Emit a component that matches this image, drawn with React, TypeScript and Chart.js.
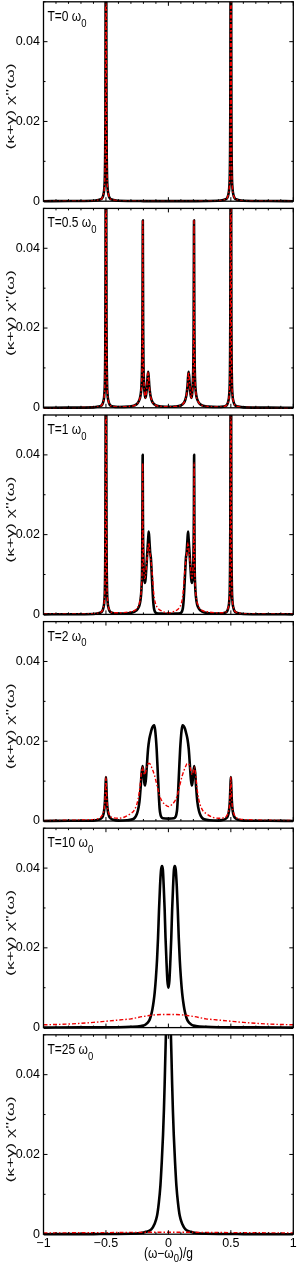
import React, { useEffect, useRef } from "react";
import { Chart, registerables } from "chart.js";

Chart.register(...registerables);

const W = 300;
const H = 1268;
const FONT = '"Liberation Sans", Arial, Helvetica, sans-serif';

// ---- text / ticks ----
const temperatures = ["0", "0.5", "1", "2", "10", "25"];
const xTickValues = [-1, -0.5, 0, 0.5, 1];
const xTickLabels = ["\u22121", "\u22120.5", "0", "0.5", "1"];
const yTickValues = [0, 0.02, 0.04];
const yTickLabels = ["0", "0.02", "0.04"];
const xMinorTicks = [-0.9, -0.8, -0.7, -0.6, -0.4, -0.3, -0.2, -0.1, 0.1, 0.2, 0.3, 0.4, 0.6, 0.7, 0.8, 0.9];
const yMinorTicks = [0.01, 0.03, 0.05];
const yTitle = "(\u03BA+\u03B3) \u03C7''(\u03C9)";

type Pt = [number, number];

// ---- T = 0 ----
const t0Black: Pt[] = [[-1,0],[-0.8,0.00005],[-0.6,0.0001],[-0.56,0.0003],[-0.54,0.0005],[-0.53,0.0008],[-0.52,0.0017],[-0.513,0.0033],[-0.508,0.0075],[-0.505,0.018],[-0.503,0.045],[-0.5,0.2],[-0.497,0.045],[-0.495,0.018],[-0.492,0.0075],[-0.487,0.0033],[-0.48,0.0017],[-0.47,0.0008],[-0.46,0.0005],[-0.44,0.0003],[-0.4,0.0001],[-0.2,0.00003],[0,0.00002],[0.2,0.00003],[0.4,0.0001],[0.44,0.0003],[0.46,0.0005],[0.47,0.0008],[0.48,0.0017],[0.487,0.0033],[0.492,0.0075],[0.495,0.018],[0.497,0.045],[0.5,0.2],[0.503,0.045],[0.505,0.018],[0.508,0.0075],[0.513,0.0033],[0.52,0.0017],[0.53,0.0008],[0.54,0.0005],[0.56,0.0003],[0.6,0.0001],[0.8,0.00005],[1,0]];
const t0Red: Pt[] = [...t0Black];

// ---- T = 0.5 ----
const t05Black: Pt[] = [[-1,0],[-0.8,0.00005],[-0.6,0.0001],[-0.56,0.0003],[-0.54,0.0005],[-0.53,0.0008],[-0.52,0.0017],[-0.513,0.0033],[-0.508,0.0075],[-0.505,0.018],[-0.503,0.045],[-0.5,0.2],[-0.497,0.045],[-0.495,0.018],[-0.492,0.0075],[-0.487,0.0033],[-0.48,0.0017],[-0.47,0.0008],[-0.46,0.0005],[-0.44,0.0003],[-0.4,0.0002],
[-0.32,0.0003],[-0.27,0.0006],[-0.245,0.0012],[-0.23,0.0022],[-0.22,0.0038],[-0.214,0.0065],[-0.21,0.012],[-0.208,0.02],[-0.206,0.038],[-0.205,0.047],[-0.204,0.038],[-0.202,0.02],[-0.2,0.012],[-0.196,0.0065],[-0.19,0.0035],[-0.184,0.0025],[-0.178,0.0033],[-0.172,0.0052],[-0.167,0.0076],[-0.162,0.009],[-0.158,0.0078],[-0.153,0.0055],[-0.145,0.0033],[-0.135,0.002],[-0.123,0.0012],[-0.1,0.0006],[-0.05,0.0003],[0,0.00025],
[0.05,0.0003],[0.1,0.0006],[0.123,0.0012],[0.135,0.002],[0.145,0.0033],[0.153,0.0055],[0.158,0.0078],[0.162,0.009],[0.167,0.0076],[0.172,0.0052],[0.178,0.0033],[0.184,0.0025],[0.19,0.0035],[0.196,0.0065],[0.2,0.012],[0.202,0.02],[0.204,0.038],[0.205,0.047],[0.206,0.038],[0.208,0.02],[0.21,0.012],[0.214,0.0065],[0.22,0.0038],[0.23,0.0022],[0.245,0.0012],[0.27,0.0006],[0.32,0.0003],
[0.4,0.0002],[0.44,0.0003],[0.46,0.0005],[0.47,0.0008],[0.48,0.0017],[0.487,0.0033],[0.492,0.0075],[0.495,0.018],[0.497,0.045],[0.5,0.2],[0.503,0.045],[0.505,0.018],[0.508,0.0075],[0.513,0.0033],[0.52,0.0017],[0.53,0.0008],[0.54,0.0005],[0.56,0.0003],[0.6,0.0001],[0.8,0.00005],[1,0]];
const t05Red: Pt[] = [...t05Black];

// ---- T = 1 ----
const t1Black: Pt[] = [[-1,0],[-0.8,0.00005],[-0.6,0.0001],[-0.56,0.0003],[-0.54,0.0005],[-0.53,0.0008],[-0.52,0.0017],[-0.513,0.0033],[-0.508,0.0075],[-0.505,0.018],[-0.503,0.045],[-0.5,0.2],[-0.497,0.045],[-0.495,0.018],[-0.492,0.0075],[-0.487,0.0033],[-0.48,0.0017],[-0.47,0.0008],[-0.46,0.0005],[-0.44,0.0003],[-0.4,0.0002],
[-0.32,0.0003],[-0.27,0.0007],[-0.245,0.0014],[-0.23,0.0025],[-0.22,0.0045],[-0.214,0.0075],[-0.21,0.013],[-0.208,0.025],[-0.206,0.04],[-0.204,0.025],[-0.2,0.014],[-0.195,0.0095],[-0.189,0.0079],[-0.183,0.0088],[-0.175,0.0125],[-0.166,0.017],[-0.16,0.0198],[-0.157,0.0208],[-0.152,0.0185],[-0.146,0.0155],[-0.14,0.014],[-0.134,0.0105],[-0.128,0.0068],[-0.122,0.0035],[-0.116,0.0016],[-0.108,0.0007],[-0.095,0.0003],[-0.05,0.0002],[0,0.00015],
[0.05,0.0002],[0.095,0.0003],[0.108,0.0007],[0.116,0.0016],[0.122,0.0035],[0.128,0.0068],[0.134,0.0105],[0.14,0.014],[0.146,0.0155],[0.152,0.0185],[0.157,0.0208],[0.16,0.0198],[0.166,0.017],[0.175,0.0125],[0.183,0.0088],[0.189,0.0079],[0.195,0.0095],[0.2,0.014],[0.204,0.025],[0.206,0.04],[0.208,0.025],[0.21,0.013],[0.214,0.0075],[0.22,0.0045],[0.23,0.0025],[0.245,0.0014],[0.27,0.0007],[0.32,0.0003],
[0.4,0.0002],[0.44,0.0003],[0.46,0.0005],[0.47,0.0008],[0.48,0.0017],[0.487,0.0033],[0.492,0.0075],[0.495,0.018],[0.497,0.045],[0.5,0.2],[0.503,0.045],[0.505,0.018],[0.508,0.0075],[0.513,0.0033],[0.52,0.0017],[0.53,0.0008],[0.54,0.0005],[0.56,0.0003],[0.6,0.0001],[0.8,0.00005],[1,0]];
const t1Red: Pt[] = [[-1,0.0001],[-0.8,0.0001],[-0.6,0.0002],[-0.56,0.0004],[-0.54,0.0006],[-0.53,0.0009],[-0.52,0.0018],[-0.513,0.0034],[-0.508,0.0075],[-0.505,0.018],[-0.503,0.045],[-0.5,0.2],[-0.497,0.045],[-0.495,0.018],[-0.492,0.0075],[-0.487,0.0034],[-0.48,0.0018],[-0.47,0.0009],[-0.46,0.0006],[-0.44,0.0004],[-0.4,0.0004],
[-0.32,0.0006],[-0.27,0.001],[-0.245,0.0018],[-0.23,0.003],[-0.22,0.005],[-0.214,0.008],[-0.21,0.013],[-0.208,0.024],[-0.206,0.038],[-0.204,0.025],[-0.2,0.015],[-0.195,0.0105],[-0.189,0.009],[-0.183,0.0098],[-0.175,0.0125],[-0.166,0.0155],[-0.16,0.0175],[-0.157,0.018],[-0.152,0.0168],[-0.146,0.015],[-0.14,0.0135],[-0.133,0.0115],[-0.126,0.0088],[-0.12,0.0062],[-0.112,0.004],[-0.102,0.0026],[-0.09,0.0018],[-0.077,0.0013],[-0.05,0.0008],[-0.025,0.0005],[0,0.0004],
[0.025,0.0005],[0.05,0.0008],[0.077,0.0013],[0.09,0.0018],[0.102,0.0026],[0.112,0.004],[0.12,0.0062],[0.126,0.0088],[0.133,0.0115],[0.14,0.0135],[0.146,0.015],[0.152,0.0168],[0.157,0.018],[0.16,0.0175],[0.166,0.0155],[0.175,0.0125],[0.183,0.0098],[0.189,0.009],[0.195,0.0105],[0.2,0.015],[0.204,0.025],[0.206,0.038],[0.208,0.024],[0.21,0.013],[0.214,0.008],[0.22,0.005],[0.23,0.003],[0.245,0.0018],[0.27,0.001],[0.32,0.0006],
[0.4,0.0004],[0.44,0.0004],[0.46,0.0006],[0.47,0.0009],[0.48,0.0018],[0.487,0.0034],[0.492,0.0075],[0.495,0.018],[0.497,0.045],[0.5,0.2],[0.503,0.045],[0.505,0.018],[0.508,0.0075],[0.513,0.0034],[0.52,0.0018],[0.53,0.0009],[0.54,0.0006],[0.56,0.0004],[0.6,0.0002],[0.8,0.0001],[1,0.0001]];

// ---- T = 2 ----
const t2Black: Pt[] = [[-1,0],[-0.8,0.00005],[-0.6,0.0001],[-0.56,0.0003],[-0.54,0.0006],[-0.525,0.0012],[-0.515,0.0025],[-0.508,0.005],[-0.503,0.009],[-0.5,0.011],[-0.497,0.009],[-0.492,0.005],[-0.485,0.0025],[-0.475,0.0012],[-0.46,0.0006],[-0.44,0.0003],[-0.4,0.0001],[-0.33,0.0002],[-0.28,0.0005],[-0.26,0.0012],[-0.245,0.0025],[-0.232,0.0048],[-0.222,0.0085],[-0.214,0.0122],[-0.207,0.0138],[-0.2,0.0122],[-0.193,0.0097],[-0.187,0.0089],[-0.18,0.0105],[-0.172,0.014],[-0.163,0.018],[-0.153,0.0205],[-0.144,0.0218],[-0.132,0.0232],[-0.122,0.0238],[-0.113,0.024],[-0.106,0.0228],[-0.1,0.0208],[-0.094,0.018],[-0.087,0.0135],[-0.08,0.0088],[-0.075,0.0055],[-0.07,0.003],[-0.064,0.0017],[-0.058,0.0011],[-0.045,0.0007],[0,0.0006],
[0.045,0.0007],[0.058,0.0011],[0.064,0.0017],[0.07,0.003],[0.075,0.0055],[0.08,0.0088],[0.087,0.0135],[0.094,0.018],[0.1,0.0208],[0.106,0.0228],[0.113,0.024],[0.122,0.0238],[0.132,0.0232],[0.144,0.0218],[0.153,0.0205],[0.163,0.018],[0.172,0.014],[0.18,0.0105],[0.187,0.0089],[0.193,0.0097],[0.2,0.0122],[0.207,0.0138],[0.214,0.0122],[0.222,0.0085],[0.232,0.0048],[0.245,0.0025],[0.26,0.0012],[0.28,0.0005],[0.33,0.0002],[0.4,0.0001],[0.44,0.0003],[0.46,0.0006],[0.475,0.0012],[0.485,0.0025],[0.492,0.005],[0.497,0.009],[0.5,0.011],[0.503,0.009],[0.508,0.005],[0.515,0.0025],[0.525,0.0012],[0.54,0.0006],[0.56,0.0003],[0.6,0.0001],[0.8,0.00005],[1,0]];
const t2Red: Pt[] = [[-1,0.0001],[-0.8,0.0002],[-0.65,0.0003],[-0.56,0.0006],[-0.535,0.0012],[-0.518,0.0025],[-0.508,0.005],[-0.503,0.009],[-0.5,0.011],[-0.497,0.009],[-0.492,0.005],[-0.482,0.0025],[-0.465,0.0012],[-0.44,0.0008],[-0.4,0.0007],[-0.35,0.001],[-0.31,0.0017],[-0.27,0.0029],[-0.243,0.0054],[-0.228,0.0085],[-0.216,0.0122],[-0.207,0.0135],[-0.199,0.0124],[-0.191,0.0116],[-0.182,0.0124],[-0.172,0.0137],[-0.16,0.0144],[-0.15,0.0144],[-0.138,0.0137],[-0.125,0.0127],[-0.11,0.0113],[-0.09,0.0088],[-0.07,0.0063],[-0.05,0.0049],[-0.03,0.0042],[0,0.0036],
[0.03,0.0042],[0.05,0.0049],[0.07,0.0063],[0.09,0.0088],[0.11,0.0113],[0.125,0.0127],[0.138,0.0137],[0.15,0.0144],[0.16,0.0144],[0.172,0.0137],[0.182,0.0124],[0.191,0.0116],[0.199,0.0124],[0.207,0.0135],[0.216,0.0122],[0.228,0.0085],[0.243,0.0054],[0.27,0.0029],[0.31,0.0017],[0.35,0.001],[0.4,0.0007],[0.44,0.0008],[0.465,0.0012],[0.482,0.0025],[0.492,0.005],[0.497,0.009],[0.5,0.011],[0.503,0.009],[0.508,0.005],[0.518,0.0025],[0.535,0.0012],[0.56,0.0006],[0.65,0.0003],[0.8,0.0002],[1,0.0001]];

// ---- T = 10 ----
const t10Black: Pt[] = [[-1,0],[-0.7,0.00005],[-0.4,0.0001],[-0.3,0.0002],[-0.22,0.0004],[-0.19,0.0006],[-0.17,0.0011],[-0.15,0.002],[-0.138,0.0032],[-0.128,0.0046],[-0.118,0.0066],[-0.11,0.0087],[-0.1,0.0125],[-0.091,0.017],[-0.083,0.0225],[-0.075,0.0296],[-0.067,0.0355],[-0.059,0.0395],[-0.051,0.0405],[-0.044,0.0395],[-0.037,0.035],[-0.03,0.0296],[-0.023,0.0225],[-0.016,0.017],[-0.008,0.0118],[0,0.01],
[0.008,0.0118],[0.016,0.017],[0.023,0.0225],[0.03,0.0296],[0.037,0.035],[0.044,0.0395],[0.051,0.0405],[0.059,0.0395],[0.067,0.0355],[0.075,0.0296],[0.083,0.0225],[0.091,0.017],[0.1,0.0125],[0.11,0.0087],[0.118,0.0066],[0.128,0.0046],[0.138,0.0032],[0.15,0.002],[0.17,0.0011],[0.19,0.0006],[0.22,0.0004],[0.3,0.0002],[0.4,0.0001],[0.7,0.00005],[1,0]];
const t10Red: Pt[] = [[-1,0.0007],[-0.8,0.0009],[-0.6,0.0013],[-0.5,0.0016],[-0.4,0.0019],[-0.3,0.0022],[-0.2,0.0028],[-0.1,0.0032],[0,0.0033],[0.1,0.0032],[0.2,0.0028],[0.3,0.0022],[0.4,0.0019],[0.5,0.0016],[0.6,0.0013],[0.8,0.0009],[1,0.0007]];

// ---- T = 25 ----
const t25Black: Pt[] = [[-1,0],[-0.6,0.00003],[-0.3,0.0001],[-0.22,0.0003],[-0.18,0.0006],[-0.137,0.0012],[-0.112,0.0025],[-0.091,0.0046],[-0.077,0.0078],[-0.064,0.0122],[-0.053,0.0182],[-0.043,0.0249],[-0.036,0.031],[-0.03,0.0376],[-0.025,0.044],[-0.02,0.05],[-0.012,0.059],[0,0.064],[0.012,0.059],[0.02,0.05],[0.025,0.044],[0.03,0.0376],[0.036,0.031],[0.043,0.0249],[0.053,0.0182],[0.064,0.0122],[0.077,0.0078],[0.091,0.0046],[0.112,0.0025],[0.137,0.0012],[0.18,0.0006],[0.22,0.0003],[0.3,0.0001],[0.6,0.00003],[1,0]];
const t25Red: Pt[] = [[-1,0.0003],[-0.5,0.0004],[0,0.0005],[0.5,0.0004],[1,0.0003]];

const blackSeries = [t0Black, t05Black, t1Black, t2Black, t10Black, t25Black];
const redSeries = [t0Red, t05Red, t1Red, t2Red, t10Red, t25Red];

// ---- layout ----
const panelTops = [1.8, 208.4, 415, 621.6, 828.2, 1034.8];
const panelHeight = 199.4;
const plotLeft = 43.5;
const plotRight = 293.3;

type Part = { text: string; size: number; dy: number };

function drawRich(ctx: CanvasRenderingContext2D, parts: Part[], center: boolean) {
  const widths = parts.map((p) => {
    ctx.font = `${p.size}px ${FONT}`;
    return ctx.measureText(p.text).width;
  });
  const total = widths.reduce((a, b) => a + b, 0);
  let cx = center ? -total / 2 : 0;
  parts.forEach((p, i) => {
    ctx.font = `${p.size}px ${FONT}`;
    ctx.fillText(p.text, cx, p.dy);
    cx += widths[i];
  });
}

function Panel({ index }: { index: number }) {
  const ref = useRef<HTMLCanvasElement | null>(null);
  useEffect(() => {
    const canvas = ref.current;
    if (!canvas) return;
    const top = panelTops[index];
    const bottom = top + panelHeight;
    const isLast = index === panelTops.length - 1;

    const framePlugin = {
      id: "frame" + index,
      afterDraw(chart: any) {
        const ctx: CanvasRenderingContext2D = chart.ctx;
        const a = chart.chartArea;
        const xs = chart.scales.x;
        const ys = chart.scales.y;
        ctx.save();
        ctx.strokeStyle = "#000";
        ctx.lineWidth = 1.3;
        ctx.strokeRect(a.left, a.top, a.right - a.left, a.bottom - a.top);
        ctx.lineWidth = 1;
        ctx.beginPath();
        xTickValues.forEach((v) => {
          const px = xs.getPixelForValue(v);
          ctx.moveTo(px, a.bottom); ctx.lineTo(px, a.bottom - 4);
          ctx.moveTo(px, a.top); ctx.lineTo(px, a.top + 4);
        });
        yTickValues.forEach((v) => {
          const py = ys.getPixelForValue(v);
          ctx.moveTo(a.left, py); ctx.lineTo(a.left + 4, py);
          ctx.moveTo(a.right, py); ctx.lineTo(a.right - 4, py);
        });
        xMinorTicks.forEach((v) => {
          const px = xs.getPixelForValue(v);
          ctx.moveTo(px, a.bottom); ctx.lineTo(px, a.bottom - 2);
          ctx.moveTo(px, a.top); ctx.lineTo(px, a.top + 2);
        });
        yMinorTicks.forEach((v) => {
          const py = ys.getPixelForValue(v);
          ctx.moveTo(a.left, py); ctx.lineTo(a.left + 2, py);
          ctx.moveTo(a.right, py); ctx.lineTo(a.right - 2, py);
        });
        ctx.stroke();

        ctx.fillStyle = "#000";
        ctx.textBaseline = "alphabetic";
        ctx.textAlign = "left";
        // panel label
        ctx.save();
        ctx.translate(a.left + 4, a.top + 19);
        ctx.scale(1, 1.15);
        drawRich(ctx, [
          { text: `T=${temperatures[index]} \u03C9`, size: 12, dy: 0 },
          { text: "0", size: 9.5, dy: 5 },
        ], false);
        ctx.restore();

        // y title
        ctx.save();
        ctx.font = `11px ${FONT}`;
        ctx.fillStyle = "#111";
        const tw = ctx.measureText(yTitle).width;
        ctx.translate(10.5, (a.top + a.bottom) / 2 + 5);
        ctx.rotate(-Math.PI / 2);
        ctx.scale(86 / tw, 1);
        ctx.textAlign = "center";
        ctx.textBaseline = "middle";
        ctx.fillText(yTitle, 0, 0);
        ctx.restore();

        if (isLast) {
          ctx.save();
          ctx.translate((a.left + a.right) / 2, 1257.5);
          ctx.scale(1, 1.15);
          drawRich(ctx, [
            { text: "(\u03C9\u2212\u03C9", size: 12, dy: 0 },
            { text: "0", size: 9.5, dy: 4 },
            { text: ")/g", size: 12, dy: 0 },
          ], true);
          ctx.restore();
        }
        ctx.restore();
      },
    };

    const chart = new Chart(canvas, {
      type: "line",
      data: {
        datasets: [
          {
            data: redSeries[index].map(([x, y]) => ({ x, y })),
            borderColor: "rgb(238,0,0)",
            borderWidth: 1.4,
            borderDash: [4, 2, 1.5, 2],
            pointRadius: 0,
            cubicInterpolationMode: "monotone",
            fill: false,
            clip: { left: 0, top: 0, right: 0, bottom: 3 },
          },
          {
            data: blackSeries[index].map(([x, y]) => ({ x, y })),
            borderColor: "#000",
            borderWidth: 2.6,
            borderJoinStyle: "round",
            pointRadius: 0,
            cubicInterpolationMode: "monotone",
            fill: false,
            clip: { left: 0, top: 0, right: 0, bottom: 3 },
          },
        ] as any,
      },
      options: {
        animation: false,
        responsive: false,
        events: [],
        layout: {
          padding: {
            top: top,
            left: 0,
            right: W - plotRight,
            bottom: isLast ? 0 : H - bottom,
          },
        },
        plugins: {
          legend: { display: false },
          tooltip: { enabled: false },
          title: { display: false },
        },
        scales: {
          x: {
            type: "linear",
            min: -1,
            max: 1,
            display: isLast,
            grid: { display: false, drawTicks: false },
            border: { display: false },
            afterBuildTicks: (s: any) => {
              s.ticks = xTickValues.map((value) => ({ value }));
            },
            afterFit: (s: any) => {
              s.height = isLast ? H - bottom : 0;
              s.paddingLeft = 0;
              s.paddingRight = 0;
            },
            ticks: {
              autoSkip: false,
              maxRotation: 0,
              padding: 2,
              color: "#000",
              font: { family: FONT, size: 12.5 },
              callback: (v: any) => xTickLabels[xTickValues.indexOf(Number(v))],
            },
          },
          y: {
            type: "linear",
            min: 0,
            max: 0.05,
            grid: { display: false, drawTicks: false },
            border: { display: false },
            afterBuildTicks: (s: any) => {
              s.ticks = yTickValues.map((value) => ({ value }));
            },
            afterFit: (s: any) => {
              s.width = plotLeft;
              s.paddingTop = 0;
              s.paddingBottom = 0;
            },
            ticks: {
              padding: 3.5,
              color: "#000",
              font: { family: FONT, size: 12.5 },
              callback: (v: any) => yTickLabels[yTickValues.indexOf(Number(v))],
            },
          },
        },
      } as any,
      plugins: [framePlugin],
    });
    return () => chart.destroy();
  }, [index]);
  return (
    <canvas
      ref={ref}
      width={W}
      height={H}
      style={{ position: "absolute", left: 0, top: 0, width: W, height: H }}
    />
  );
}

export default function App() {
  return (
    <div style={{ position: "absolute", left: 0, top: 0, width: W, height: H, background: "#fff" }}>
      {temperatures.map((t, i) => (
        <Panel key={t} index={i} />
      ))}
    </div>
  );
}
